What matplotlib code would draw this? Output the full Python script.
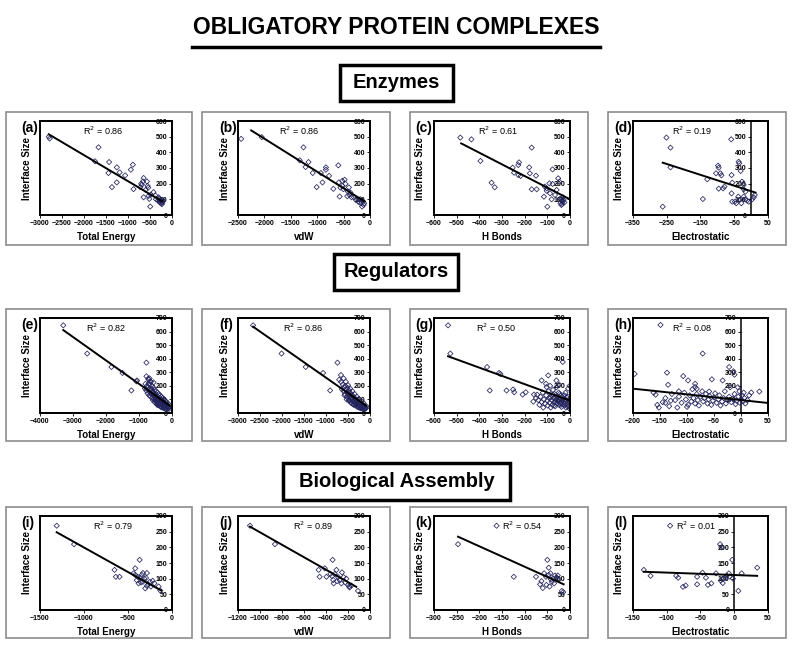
import numpy as np
import matplotlib
matplotlib.use('Agg')
import matplotlib.pyplot as plt
from matplotlib.patches import Rectangle
from matplotlib.lines import Line2D

plt.rcParams['font.family'] = ['Liberation Sans', 'DejaVu Sans']

# ---- data: (x, y) points and trendline ends ----
# Enzymes
A_PTS = [(-2800, 500), (-2780, 488), (-1670, 432), (-1750, 343), (-1430, 338), (-1445, 268),
         (-1255, 304), (-1190, 272), (-1065, 253), (-935, 289), (-890, 321), (-1255, 208),
         (-1365, 178), (-875, 165), (-645, 236), (-660, 214), (-685, 193), (-570, 214),
         (-555, 186), (-720, 178), (-645, 113), (-530, 122), (-420, 146), (-515, 103),
         (-495, 54), (-365, 101), (-320, 92), (-280, 81), (-250, 75), (-230, 69), (-305, 113),
         (-215, 96), (-600, 160), (-480, 130), (-380, 125), (-300, 105), (-260, 88),
         (-700, 200), (-540, 175), (-240, 85), (-220, 78), (-260, 95), (-200, 90)]
A_FIT = [(-2800, 515), (-230, 88)]

B_PTS = [(-2440, 486), (-2050, 497), (-1260, 432), (-1330, 349), (-1165, 338), (-1220, 306),
         (-1085, 268), (-930, 268), (-835, 304), (-835, 289), (-900, 208), (-1010, 178),
         (-775, 250), (-695, 167), (-600, 317), (-590, 208), (-575, 118), (-525, 186),
         (-505, 165), (-480, 225), (-400, 176), (-420, 150), (-390, 128), (-350, 113),
         (-305, 113), (-265, 96), (-225, 86), (-185, 101), (-165, 75), (-150, 54), (-120, 64),
         (-370, 143), (-465, 199), (-525, 218), (-560, 175), (-430, 120), (-200, 80),
         (-140, 90), (-110, 75)]
B_FIT = [(-2250, 540), (-100, 86)]

C_PTS = [(-484, 494), (-435, 483), (-395, 345), (-346, 206), (-332, 177), (-253, 302),
         (-247, 270), (-228, 319), (-225, 336), (-228, 255), (-218, 249), (-169, 430),
         (-180, 304), (-177, 266), (-169, 164), (-150, 251), (-147, 164), (-115, 117),
         (-111, 181), (-103, 170), (-103, 155), (-100, 53), (-91, 202), (-88, 138), (-81, 100),
         (-77, 291), (-77, 198), (-66, 128), (-59, 160), (-52, 234), (-47, 213), (-44, 104),
         (-40, 100), (-36, 92), (-33, 85), (-42, 75), (-38, 64), (-31, 113), (-28, 96),
         (-25, 80), (-35, 70)]
C_FIT = [(-480, 457), (0, 100)]

D_PTS = [(-251, 494), (-239, 430), (-239, 304), (-262, 53), (-143, 102), (-130, 228),
         (-104, 266), (-98, 315), (-96, 302), (-91, 266), (-88, 253), (-96, 168), (-83, 170),
         (-79, 181), (-59, 483), (-58, 255), (-56, 206), (-58, 138), (-56, 85), (-48, 85),
         (-44, 75), (-37, 340), (-35, 330), (-31, 281), (-27, 213), (-22, 192), (-22, 164),
         (-38, 117), (-35, 96), (-29, 75), (-22, 117), (-17, 100), (-12, 92), (-7, 85),
         (3, 100), (8, 113), (11, 128), (-17, 149)]
D_FIT = [(-262, 334), (13, 143)]

# Regulators
E_PTS = [(-3295, 646), (-2570, 438), (-1835, 339), (-1500, 295), (-1080, 233), (-1060, 240),
         (-1230, 166), (-775, 371), (-775, 270), (-725, 252), (-655, 233), (-805, 215),
         (-705, 215), (-820, 180), (-780, 165), (-760, 200), (-740, 145), (-720, 190),
         (-700, 170), (-690, 130), (-680, 210), (-660, 150), (-650, 120), (-640, 175),
         (-620, 140), (-600, 110), (-590, 160), (-580, 95), (-570, 130), (-560, 185),
         (-550, 105), (-540, 145), (-530, 80), (-520, 120), (-510, 100), (-500, 135),
         (-490, 90), (-480, 115), (-470, 70), (-460, 100), (-450, 125), (-440, 85), (-430, 60),
         (-420, 105), (-410, 75), (-400, 95), (-390, 55), (-380, 85), (-370, 110), (-360, 65),
         (-350, 80), (-340, 45), (-330, 95), (-320, 60), (-310, 75), (-300, 40), (-290, 65),
         (-280, 85), (-270, 50), (-260, 70), (-250, 35), (-240, 55), (-230, 75), (-220, 45),
         (-210, 60), (-200, 30), (-190, 50), (-180, 65), (-170, 40), (-160, 55), (-150, 30),
         (-140, 45), (-130, 60), (-120, 35), (-110, 50), (-100, 40), (-90, 30), (-600, 200),
         (-640, 230), (-700, 245), (-680, 255), (-560, 225), (-520, 170), (-480, 160),
         (-440, 150), (-400, 140), (-360, 130), (-320, 120), (-280, 110), (-240, 100),
         (-200, 90), (-160, 80), (-120, 70), (-620, 175), (-580, 150), (-540, 120),
         (-500, 100), (-460, 85), (-420, 70), (-380, 60), (-340, 70), (-300, 55), (-260, 45),
         (-220, 55), (-180, 40), (-140, 30), (-450, 60), (-350, 50), (-250, 60)]
E_FIT = [(-3295, 611), (-70, 54)]

F_PTS = [(-2657, 646), (-2010, 438), (-1462, 339), (-1066, 295), (-739, 371), (-906, 166),
         (-700, 245), (-660, 230), (-640, 175), (-620, 210), (-600, 160), (-590, 190),
         (-570, 140), (-560, 200), (-540, 170), (-530, 120), (-520, 150), (-510, 185),
         (-500, 110), (-490, 140), (-480, 165), (-470, 95), (-460, 125), (-450, 150),
         (-440, 80), (-430, 110), (-420, 135), (-410, 70), (-400, 100), (-390, 125), (-380, 85),
         (-370, 60), (-360, 110), (-350, 75), (-340, 95), (-330, 55), (-320, 80), (-310, 100),
         (-300, 65), (-290, 45), (-280, 85), (-270, 60), (-260, 75), (-250, 40), (-240, 55),
         (-230, 70), (-220, 35), (-210, 50), (-200, 65), (-190, 40), (-180, 55), (-170, 30),
         (-160, 45), (-150, 60), (-140, 35), (-130, 50), (-120, 40), (-110, 30), (-100, 45),
         (-90, 35), (-80, 50), (-600, 255), (-550, 230), (-500, 205), (-450, 180), (-400, 160),
         (-350, 140), (-300, 120), (-250, 105), (-200, 90), (-150, 75), (-660, 280),
         (-580, 130), (-530, 100), (-480, 90), (-430, 75), (-380, 65), (-330, 70),
         (-280, 50), (-230, 45), (-180, 35), (-130, 30), (-450, 110), (-350, 90)]
F_FIT = [(-2657, 636), (-91, 54)]

G_PTS = [(-538, 646), (-528, 438), (-366, 339), (-313, 295), (-307, 287), (-354, 166),
         (-280, 166), (-251, 173), (-246, 153), (-209, 136), (-195, 153), (-162, 84),
         (-159, 136), (-125, 240), (-96, 277), (-106, 215), (-103, 191), (-32, 376),
         (-140, 95), (-135, 60), (-130, 120), (-125, 80), (-120, 150), (-118, 40), (-115, 100),
         (-110, 70), (-105, 130), (-100, 90), (-98, 55), (-95, 160), (-92, 110), (-90, 75),
         (-88, 200), (-85, 40), (-82, 130), (-80, 95), (-78, 60), (-75, 170), (-72, 110),
         (-70, 80), (-68, 140), (-65, 50), (-62, 100), (-60, 190), (-58, 70), (-55, 120),
         (-52, 85), (-50, 150), (-48, 60), (-45, 105), (-42, 75), (-40, 130), (-38, 45),
         (-35, 95), (-32, 65), (-30, 110), (-28, 80), (-25, 55), (-22, 100), (-20, 70),
         (-18, 40), (-15, 90), (-12, 60), (-10, 120), (-8, 75), (-5, 50), (-3, 90), (-2, 200),
         (-1, 30), (-150, 110), (-145, 135), (-60, 240), (-48, 210), (-20, 150), (-8, 180),
         (-85, 115), (-75, 135), (-65, 85), (-55, 95), (-45, 140), (-35, 120), (-25, 130),
         (-15, 115), (-5, 100), (-70, 55), (-40, 60), (-10, 45)]
G_FIT = [(-538, 418), (0, 91)]

H_PTS = [(-149, 649), (-71, 438), (-197, 288), (-137, 297), (-135, 208), (-107, 272),
         (-98, 240), (-85, 215), (-85, 191), (-82, 178), (-54, 248), (-59, 158), (-34, 240),
         (-22, 339), (-14, 307), (-12, 282), (19, 151), (34, 158),
         (-162, 150), (-158, 135), (-155, 60), (-152, 40), (-145, 80), (-140, 110), (-133, 50),
         (-128, 140), (-122, 95), (-118, 40), (-115, 120), (-110, 75), (-105, 150), (-102, 100),
         (-98, 60), (-95, 130), (-92, 85), (-90, 175), (-88, 110), (-85, 70), (-82, 140),
         (-80, 95), (-78, 55), (-75, 120), (-72, 160), (-70, 85), (-68, 110), (-65, 140),
         (-62, 70), (-60, 100), (-58, 125), (-55, 60), (-52, 90), (-50, 115), (-48, 145),
         (-45, 75), (-42, 100), (-40, 130), (-38, 55), (-35, 85), (-32, 110), (-30, 160),
         (-28, 70), (-25, 95), (-22, 120), (-20, 190), (-18, 80), (-15, 105), (-12, 140),
         (-10, 65), (-8, 90), (-5, 120), (-3, 160), (-2, 75), (0, 100), (2, 130), (4, 85),
         (6, 110), (8, 70), (12, 95), (15, 130), (5, 150), (-6, 190), (-100, 45), (-130, 90),
         (-115, 160), (-140, 75)]
H_FIT = [(-197, 178), (50, 74)]

# Biological Assembly
I_PTS = [(-1310, 269), (-1113, 210), (-653, 128), (-638, 106), (-596, 106), (-368, 160),
         (-418, 133), (-437, 117), (-418, 112), (-391, 106), (-361, 103), (-342, 112),
         (-330, 118), (-315, 100), (-295, 102), (-285, 118), (-380, 85), (-353, 88), (-304, 69),
         (-285, 77), (-270, 82), (-250, 90), (-240, 75), (-220, 93), (-200, 85), (-152, 75),
         (-133, 62), (-400, 95), (-330, 90)]
I_FIT = [(-1310, 248), (-122, 62)]

J_PTS = [(-1091, 269), (-864, 210), (-467, 128), (-458, 106), (-396, 106), (-411, 133),
         (-340, 160), (-360, 115), (-345, 108), (-335, 96), (-330, 85), (-320, 115), (-305, 128),
         (-290, 105), (-275, 95), (-260, 85), (-255, 120), (-240, 105), (-225, 88), (-215, 100),
         (-200, 80), (-190, 75), (-185, 72), (-170, 78), (-109, 61), (-300, 92)]
J_FIT = [(-1091, 266), (-125, 74)]

K_PTS = [(-162, 269), (-247, 210), (-124, 106), (-75, 106), (-66, 82), (-63, 92), (-60, 70),
         (-52, 80), (-50, 160), (-47, 135), (-57, 117), (-53, 106), (-47, 112), (-43, 117),
         (-42, 98), (-40, 90), (-37, 100), (-35, 85), (-33, 110), (-30, 103), (-27, 110),
         (-25, 96), (-18, 61), (-15, 57), (-45, 75)]
K_FIT = [(-247, 234), (-14, 82)]

L_PTS = [(-95, 269), (-134, 128), (-124, 109), (-86, 109), (-83, 103), (-76, 74), (-72, 78),
         (-55, 106), (-55, 82), (-47, 119), (-42, 103), (-39, 80), (-34, 85), (-27, 117),
         (-21, 210), (-19, 200), (-20, 94), (-17, 86), (-16, 100), (-13, 103), (-8, 117),
         (-7, 107), (-11, 110), (-3, 160), (6, 61), (11, 117), (34, 135), (-2, 100)]
L_FIT = [(-134, 122), (34, 109)]

R2 = ['0.86', '0.86', '0.61', '0.19', '0.82', '0.86', '0.50', '0.08',
      '0.79', '0.89', '0.54', '0.01']
XLABELS = ['Total Energy', 'vdW', 'H Bonds', 'Electrostatic']
XTICKS = [
    [-3000, -2500, -2000, -1500, -1000, -500, 0],
    [-2500, -2000, -1500, -1000, -500, 0],
    [-600, -500, -400, -300, -200, -100, 0],
    [-350, -250, -150, -50, 50],
    [-4000, -3000, -2000, -1000, 0],
    [-3000, -2500, -2000, -1500, -1000, -500, 0],
    [-600, -500, -400, -300, -200, -100, 0],
    [-200, -150, -100, -50, 0, 50],
    [-1500, -1000, -500, 0],
    [-1200, -1000, -800, -600, -400, -200, 0],
    [-300, -250, -200, -150, -100, -50, 0],
    [-150, -100, -50, 0, 50],
]
YMAX = [600, 700, 300]
YSTEP = [100, 100, 50]
SECTIONS = ['Enzymes', 'Regulators', 'Biological Assembly']

ALL_PTS = [A_PTS, B_PTS, C_PTS, D_PTS, E_PTS, F_PTS, G_PTS, H_PTS, I_PTS, J_PTS, K_PTS, L_PTS]
ALL_FIT = [A_FIT, B_FIT, C_FIT, D_FIT, E_FIT, F_FIT, G_FIT, H_FIT, I_FIT, J_FIT, K_FIT, L_FIT]

# ---- layout in pixels ----
W, H = 792, 656
AX_COLS = [(40, 172), (238, 370), (434, 570), (633, 768)]
AX_ROWS = [(121, 215), (318, 413), (516, 610)]
FR_COLS = [(6, 192), (202, 390), (410, 588), (608, 786)]
FR_ROWS = [(112, 245), (309, 441), (507, 638)]
R2_X = [0.48, 0.46, 0.47, 0.44, 0.5, 0.49, 0.46, 0.44, 0.55, 0.57, 0.65, 0.47]
SEC_BOX = [(340, 65, 453, 101), (334, 254, 458, 290), (283, 463, 510, 500)]


def fig_rect(l, t, r, b):
    return [l / W, 1 - b / H, (r - l) / W, (b - t) / H]


fig = plt.figure(figsize=(W / 100, H / 100), dpi=100)

fig.text(396 / W, 1 - 28 / H, 'OBLIGATORY PROTEIN COMPLEXES', ha='center', va='center',
         fontsize=16.5, fontweight='bold')
fig.add_artist(Line2D([192 / W, 600 / W], [1 - 47 / H, 1 - 47 / H], color='black', lw=2.5))

for name, (l, t, r, b) in zip(SECTIONS, SEC_BOX):
    fig.add_artist(Rectangle((l / W, 1 - b / H), (r - l) / W, (b - t) / H,
                             transform=fig.transFigure, fill=False, ec='black', lw=2.5))
    fig.text((l + r) / 2 / W, 1 - (t + b) / 2 / H, name, ha='center', va='center',
             fontsize=14.5, fontweight='bold')

letters = 'abcdefghijkl'
for i in range(12):
    row, col = divmod(i, 4)
    fl, fr = FR_COLS[col]
    ft, fb = FR_ROWS[row]
    fig.add_artist(Rectangle((fl / W, 1 - fb / H), (fr - fl) / W, (fb - ft) / H,
                             transform=fig.transFigure, fill=False, ec='#8c8c8c', lw=1.2))
    al, ar = AX_COLS[col]
    at, ab = AX_ROWS[row]
    ax = fig.add_axes(fig_rect(al, at, ar, ab))

    x, y = np.array(ALL_PTS[i]).T
    ax.scatter(x, y, marker='D', s=7, facecolors='none', edgecolors='#24245e',
               linewidths=0.55, zorder=3)
    fx, fy = np.array(ALL_FIT[i]).T
    ax.plot(fx, fy, color='black', lw=1.4, zorder=4)

    xt = XTICKS[i]
    ax.set_xlim(xt[0], xt[-1])
    ax.set_ylim(0, YMAX[row])
    ax.set_xticks(xt)
    ax.set_yticks(np.arange(0, YMAX[row] + 1, YSTEP[row]))
    # y axis crosses at x = 0, like the spreadsheet chart
    ax.spines['left'].set_position(('data', 0))
    for s in ax.spines.values():
        s.set_linewidth(1.1)
    ax.add_patch(Rectangle((0, 0), 1, 1, transform=ax.transAxes, fill=False,
                           ec='black', lw=1.4, clip_on=False, zorder=5))
    ax.tick_params(labelsize=5, length=2, width=0.6, pad=1.5)
    for lab in ax.get_xticklabels() + ax.get_yticklabels():
        lab.set_fontweight('bold')

    ax.set_xlabel(XLABELS[col], fontsize=7, fontweight='bold', labelpad=3.5)
    ax.text(-0.1, 0.5, 'Interface Size', transform=ax.transAxes, rotation=90,
            ha='center', va='center', fontsize=7, fontweight='bold')
    ax.text(-19 / (ar - al), 1.0, '(%s)' % letters[i], transform=ax.transAxes,
            ha='left', va='top', fontsize=10, fontweight='bold')
    ax.text(R2_X[i], 0.9, 'R$^2$ = %s' % R2[i], transform=ax.transAxes,
            ha='center', va='center', fontsize=6.5)

fig.savefig('out.png', dpi=100)
